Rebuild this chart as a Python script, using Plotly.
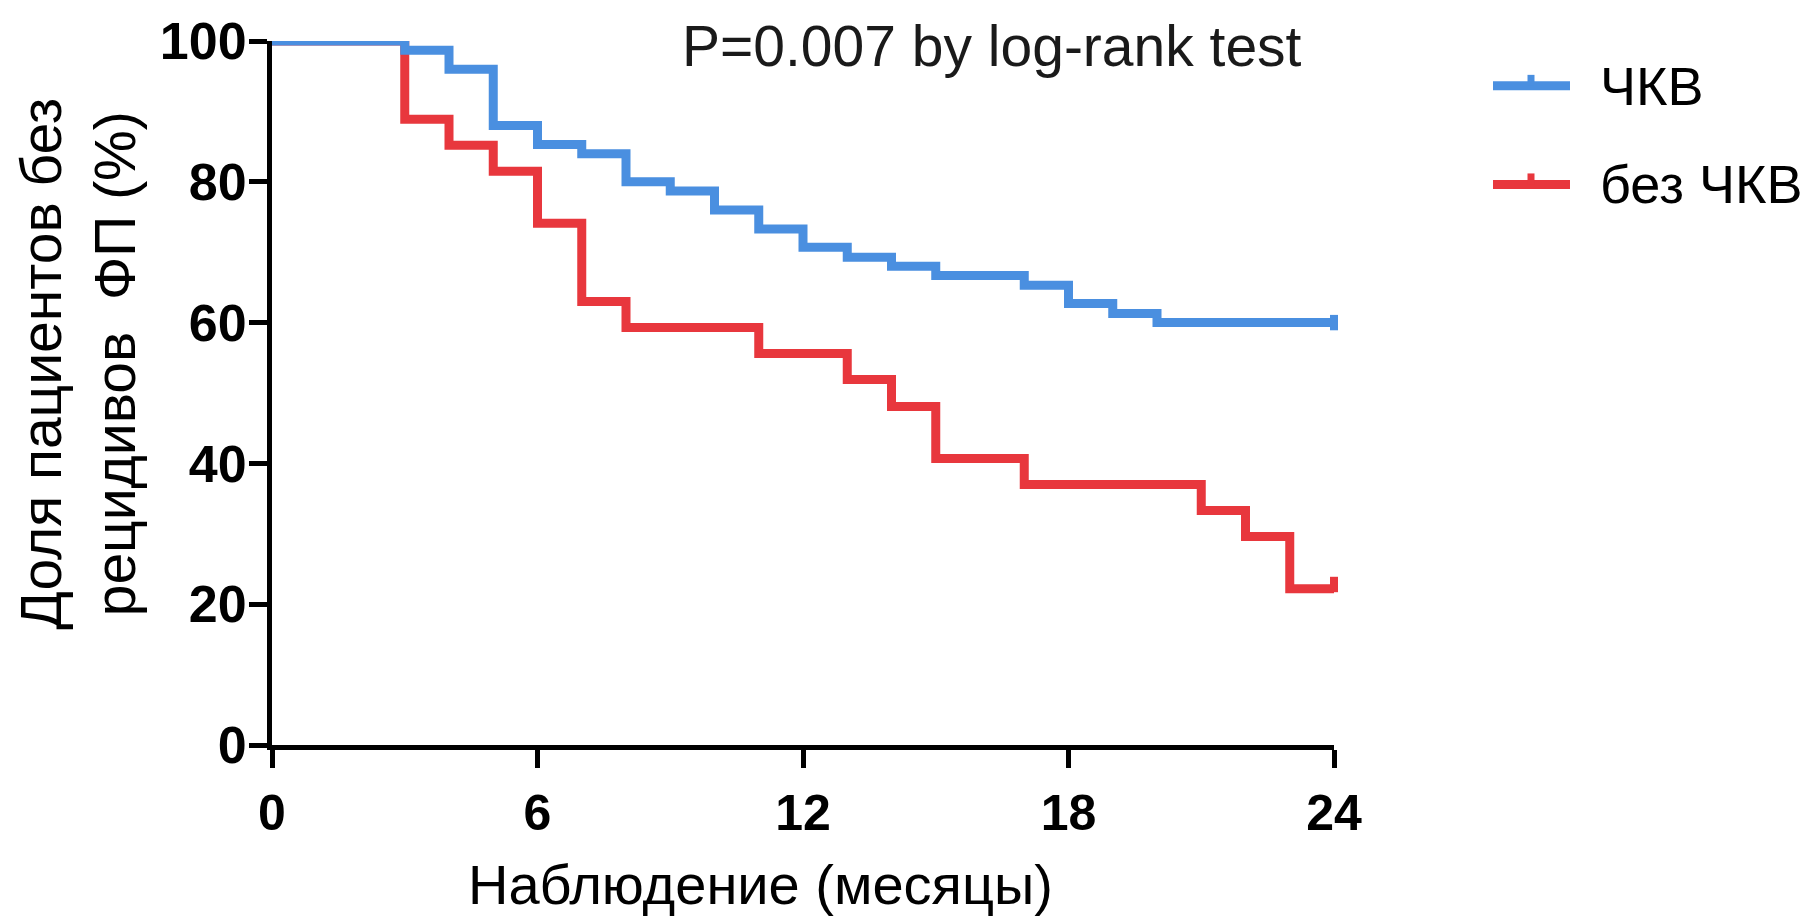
import plotly.graph_objects as go

# ---- data ----
blue_name = "ЧКВ"
red_name = "без ЧКВ"
blue_t = [0, 3, 4, 5, 6, 7, 8, 9, 10, 11, 12, 13, 14, 15, 17, 18, 19, 20, 24]
blue_s = [100, 98.7, 96.0, 88.0, 85.3, 84.0, 80.0, 78.7, 76.0, 73.3, 70.7, 69.3,
          68.0, 66.7, 65.3, 62.7, 61.3, 60.0, 60.0]
red_t = [0, 3, 4, 5, 6, 7, 8, 11, 13, 14, 15, 17, 21, 22, 23, 24]
red_s = [100, 88.9, 85.2, 81.5, 74.1, 63.0, 59.3, 55.6, 51.9, 48.1, 40.7, 37.0,
         33.3, 29.6, 22.2, 22.2]
censor_t_blue = [24]
censor_s_blue = [60.0]
censor_t_red = [24]
censor_s_red = [22.8]
x_ticks = [0, 6, 12, 18, 24]
y_ticks = [0, 20, 40, 60, 80, 100]

BLUE = "#4A8FE0"
RED = "#E8373D"
FONT = "Liberation Sans, Arial, sans-serif"

W, H = 1816, 922
L, R, T, B = 272, 482, 38, 177
PW, PH = W - L - R, H - T - B


def px_x(p):
    return (p - L) / PW


def px_y(p):
    return (H - B - p) / PH


fig = go.Figure()
fig.add_trace(go.Scatter(x=red_t, y=red_s, mode="lines", line=dict(color=RED, width=9, shape="hv"),
                         name=red_name, cliponaxis=False, showlegend=False))
fig.add_trace(go.Scatter(x=blue_t, y=blue_s, mode="lines", line=dict(color=BLUE, width=9, shape="hv"),
                         name=blue_name, cliponaxis=False, showlegend=False))
fig.add_trace(go.Scatter(x=censor_t_red, y=censor_s_red, mode="markers", cliponaxis=False, showlegend=False,
                         marker=dict(symbol="line-ns", size=11, line=dict(color=RED, width=8))))
fig.add_trace(go.Scatter(x=censor_t_blue, y=censor_s_blue, mode="markers", cliponaxis=False, showlegend=False,
                         marker=dict(symbol="line-ns", size=11, line=dict(color=BLUE, width=8))))

axis_common = dict(showgrid=False, zeroline=False, showline=True, linecolor="black", linewidth=5,
                   ticks="outside", ticklen=18, tickwidth=5, tickcolor="black")
fig.update_xaxes(range=[0, 24], tickvals=x_ticks, ticktext=[str(v) for v in x_ticks],
                 tickfont=dict(family=FONT, size=50, color="black", weight="bold"),
                 ticklabelstandoff=2, **axis_common)
fig.update_yaxes(range=[0, 100], tickvals=y_ticks, ticktext=[str(v) for v in y_ticks],
                 tickfont=dict(family=FONT, size=52, color="black", weight="bold"),
                 ticklabelstandoff=-8, **axis_common)

ann = []
ann.append(dict(text="Доля пациентов без<br>рецидивов  ФП (%)", textangle=-90,
                x=px_x(78), y=px_y(362), xref="paper", yref="paper", xanchor="center", yanchor="middle",
                showarrow=False, font=dict(family=FONT, size=57, color="black")))
ann.append(dict(text="Наблюдение (месяцы)", x=px_x(760), y=px_y(885), xref="paper", yref="paper",
                xanchor="center", yanchor="middle", showarrow=False,
                font=dict(family=FONT, size=56, color="black")))
ann.append(dict(text="P=0.007 by log-rank test", x=px_x(992), y=px_y(43), xref="paper", yref="paper",
                xanchor="center", yanchor="middle", showarrow=False,
                font=dict(family=FONT, size=57, color="#1a1a1a")))
# legend
shapes = []
for name, col, yc in [(blue_name, BLUE, 83), (red_name, RED, 182)]:
    shapes.append(dict(type="line", xref="paper", yref="paper", x0=px_x(1493), x1=px_x(1570),
                       y0=px_y(yc), y1=px_y(yc), line=dict(color=col, width=9)))
    shapes.append(dict(type="line", xref="paper", yref="paper", x0=px_x(1531), x1=px_x(1531),
                       y0=px_y(yc), y1=px_y(yc - 11), line=dict(color=col, width=7)))
    ann.append(dict(text=name, x=px_x(1598), y=px_y(yc), xref="paper", yref="paper",
                    xanchor="left", yanchor="middle", showarrow=False,
                    font=dict(family=FONT, size=54, color="black")))

fig.update_layout(width=W, height=H, margin=dict(l=L, r=R, t=T, b=B, pad=0),
                  plot_bgcolor="white", paper_bgcolor="white", annotations=ann, shapes=shapes,
                  showlegend=False)
fig.write_html("out.html")
